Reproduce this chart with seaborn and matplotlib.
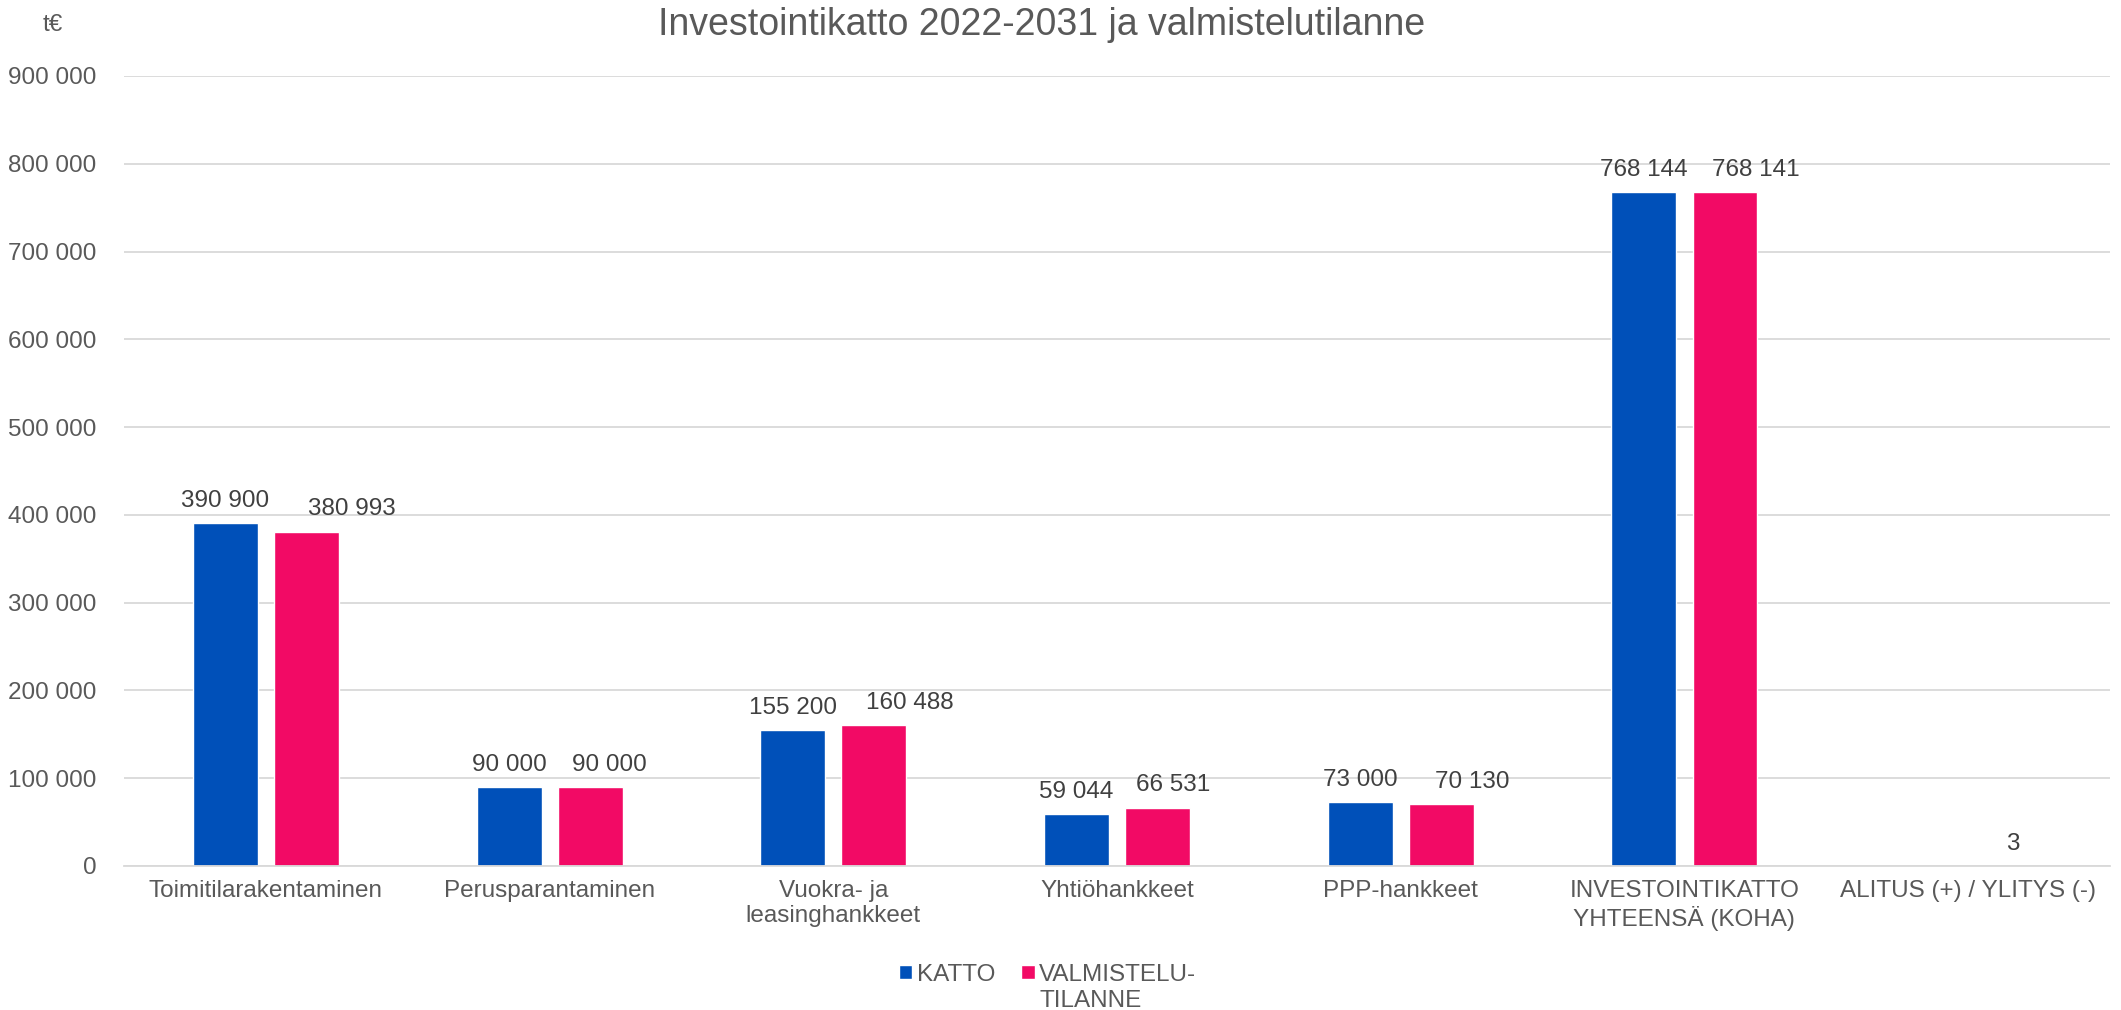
import pandas as pd
import matplotlib.pyplot as plt
import seaborn as sns
import numpy as np

categories = ['Toimitilarakentaminen', 'Perusparantaminen', 'Vuokra- ja\nleasinghankkeet',
              'Yhtiöhankkeet', 'PPP-hankkeet', 'INVESTOINTIKATTO\nYHTEENSÄ (KOHA)',
              'ALITUS (+) / YLITYS (-)']
katto = [390900, 90000, 155200, 59044, 73000, 768144, np.nan]
valmistelu = [380993, 90000, 160488, 66531, 70130, 768141, 3]
series = ['KATTO', 'VALMISTELU-\nTILANNE']
colors = ['#0050B9', '#F20A65']
# Excel pushed the pink labels sideways to avoid overlap (points)
pink_label_dx = [33, 14, 26, 11, 22, 22, 3]

df = pd.DataFrame({
    'cat': categories * 2,
    'value': katto + valmistelu,
    'series': [series[0]] * len(categories) + [series[1]] * len(categories),
})

sns.set_style('white')
plt.rcParams['font.family'] = ['Liberation Sans', 'DejaVu Sans']
fs = 17.5
grey = '#595959'

fig = plt.figure(figsize=(21.21, 10.10), dpi=100)
ax = fig.add_axes([0.0585, 0.1426, 0.9363, 0.7822])

sns.barplot(data=df, x='cat', y='value', hue='series', palette=colors,
            width=0.572, gap=0.2, ax=ax, saturation=1, legend=True)

ax.set_ylim(0, 900000)
ax.set_xlim(-0.5, len(categories) - 0.5)
ax.set_yticks(np.arange(0, 900001, 100000))
ax.set_yticklabels([f'{v:,}'.replace(',', ' ') for v in range(0, 900001, 100000)])
ax.yaxis.grid(True, color='#D9D9D9', linewidth=1.3)
ax.set_axisbelow(True)
for s in ['top', 'right', 'left']:
    ax.spines[s].set_visible(False)
ax.spines['bottom'].set_color('#D9D9D9')
ax.spines['bottom'].set_linewidth(1.3)
ax.tick_params(axis='both', length=0, labelsize=fs, colors=grey)
ax.tick_params(axis='x', pad=10)
ax.tick_params(axis='y', pad=20)
ax.set_xlabel('')
ax.set_ylabel('')

# data labels (seaborn skips the NaN bar)
k_lab = [f'{int(v):,}'.replace(',', ' ') for v in katto if not np.isnan(v)]
v_lab = [f'{int(v):,}'.replace(',', ' ') for v in valmistelu]
ax.bar_label(ax.containers[0], labels=k_lab, padding=8, fontsize=fs, color='#404040')
txts = ax.bar_label(ax.containers[1], labels=v_lab, padding=8, fontsize=fs, color='#404040')
for t, dx in zip(txts, pink_label_dx):
    t.xyann = (dx, t.xyann[1])

fig.text(0.491, 0.975, 'Investointikatto 2022-2031 ja valmistelutilanne',
         ha='center', va='center', fontsize=27, color=grey)
fig.text(0.025, 0.975, 't€', ha='center', va='center', fontsize=fs, color=grey)

# legend: marker sits next to the first line of the two-line label
handles, _ = ax.get_legend_handles_labels()
ax.get_legend().remove()
first_lines = [s.split('\n')[0] for s in series]
leg = fig.legend(handles, first_lines, loc='upper center', bbox_to_anchor=(0.494, 0.058),
                 ncol=2, frameon=False, fontsize=fs, handlelength=0.55, handleheight=0.55,
                 handletextpad=0.2, columnspacing=1.05, borderpad=0)
for t in leg.get_texts():
    t.set_color(grey)

fig.canvas.draw()
bb = leg.get_texts()[1].get_window_extent()
W, H = fig.canvas.get_width_height()
fig.text(bb.x0 / W, 0.003, series[1].split('\n')[1], ha='left', va='baseline',
         fontsize=fs, color=grey)

fig.savefig('out.png', dpi=100)
